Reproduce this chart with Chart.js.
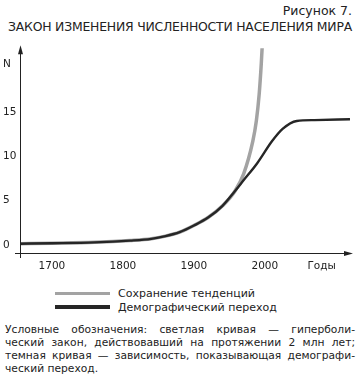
<!DOCTYPE html>
<html lang="ru">
<head>
<meta charset="utf-8">
<script src="https://cdn.jsdelivr.net/npm/chart.js@4/dist/chart.umd.min.js"></script>
<style>
  html, body { margin: 0; padding: 0; background: #fff; }
  body { width: 362px; height: 387px; position: relative; overflow: hidden; font-family: "DejaVu Sans", sans-serif; color: #222; }
  #fig { position: absolute; right: 10px; top: 3px; font-size: 12.5px; }
  #title { position: absolute; left: 8px; top: 20px; font-size: 11.5px; white-space: nowrap; transform-origin: 0 0; letter-spacing: -0.2px; }
  #wrap { position: absolute; left: 0; top: 38px; width: 362px; height: 240px; }
  #legend { position: absolute; left: 55px; top: 286px; font-size: 11px; }
  .li { display: flex; align-items: center; height: 14px; }
  .sw { width: 55px; margin-right: 8px; }
  #caption { position: absolute; left: 5px; top: 323px; width: 350px; font-size: 10.7px; line-height: 13px; }
  #caption div { text-align: justify; text-align-last: justify; white-space: nowrap; }
  #caption div.last { text-align-last: left; }
</style>
</head>
<body>
<div id="fig">Рисунок 7.</div>
<div id="title">ЗАКОН ИЗМЕНЕНИЯ ЧИСЛЕННОСТИ НАСЕЛЕНИЯ МИРА</div>
<div id="wrap"><canvas id="c"></canvas></div>
<div id="legend"></div>
<div id="caption">
  <div>Условные обозначения: светлая кривая — гиперболи-</div>
  <div>ческий закон, действовавший на протяжении 2 млн лет;</div>
  <div>темная кривая — зависимость, показывающая демографи-</div>
  <div class="last">ческий переход.</div>
</div>
<script>
const seriesNames = ['Сохранение тенденций', 'Демографический переход'];
const trendYears  = [1655, 1700, 1760, 1810, 1840, 1860, 1880, 1900, 1920, 1940, 1958, 1970, 1983, 1988, 1992, 1995, 1997];
const trendValues = [0.15, 0.2, 0.3, 0.5, 0.7, 1.0, 1.45, 2.2, 3.1, 4.4, 6.1, 8.0, 11.7, 14.0, 17.0, 20.5, 23.5];
const transYears  = [1655, 1700, 1760, 1810, 1840, 1860, 1880, 1900, 1920, 1940, 1958, 1970, 1989, 2010, 2025, 2045, 2070, 2120];
const transValues = [0.15, 0.2, 0.3, 0.5, 0.7, 1.0, 1.45, 2.2, 3.1, 4.4, 6.1, 7.3, 9.2, 11.7, 13.1, 14.0, 14.1, 14.2];
const xTickValues = [1700, 1800, 1900, 2000, 2080];
const xTickLabels = ['1700', '1800', '1900', '2000', 'Годы'];
const yTickValues = [0, 5, 10, 15, 20.4];
const yTickLabels = ['0', '5', '10', '15', 'N'];

// fit title to width
(function(){
  const t = document.getElementById('title');
  const w = t.getBoundingClientRect().width;
  t.style.transform = 'scaleX(' + (344 / w) + ')';
})();

const axisArrows = {
  id: 'axisArrows',
  afterDraw(chart) {
    const { ctx, chartArea: a } = chart;
    ctx.save();
    ctx.strokeStyle = '#222';
    ctx.fillStyle = '#222';
    ctx.lineWidth = 1;
    ctx.beginPath();
    ctx.moveTo(a.left + 0.5, a.bottom + 5);
    ctx.lineTo(a.left + 0.5, a.top + 2);
    ctx.moveTo(a.left - 5, a.bottom + 0.5);
    ctx.lineTo(a.right - 2, a.bottom + 0.5);
    ctx.stroke();
    ctx.beginPath();
    ctx.moveTo(a.left + 0.5, a.top - 3);
    ctx.lineTo(a.left - 2, a.top + 6);
    ctx.lineTo(a.left + 3, a.top + 6);
    ctx.closePath();
    ctx.fill();
    ctx.beginPath();
    ctx.moveTo(a.right + 3, a.bottom + 0.5);
    ctx.lineTo(a.right - 6, a.bottom - 2);
    ctx.lineTo(a.right - 6, a.bottom + 3);
    ctx.closePath();
    ctx.fill();
    ctx.restore();
  }
};

const chart = new Chart(document.getElementById('c'), {
  type: 'line',
  data: {
    datasets: [
      { label: seriesNames[0], data: trendYears.map((x, i) => ({ x, y: trendValues[i] })),
        borderColor: '#a3a3a3', borderWidth: 3.5, pointRadius: 0, cubicInterpolationMode: 'monotone', order: 2 },
      { label: seriesNames[1], data: transYears.map((x, i) => ({ x, y: transValues[i] })),
        borderColor: '#262626', borderWidth: 2.4, pointRadius: 0, cubicInterpolationMode: 'monotone', order: 1 }
    ]
  },
  options: {
    responsive: true,
    maintainAspectRatio: false,
    animation: false,
    layout: { padding: { left: 3, right: 12, top: 7, bottom: 0 } },
    plugins: { legend: { display: false }, title: { display: false }, tooltip: { enabled: false } },
    scales: {
      x: {
        type: 'linear', min: 1655, max: 2120,
        grid: { display: false, drawTicks: false },
        border: { display: false },
        afterBuildTicks: s => { s.ticks = xTickValues.map(v => ({ value: v })); },
        afterFit: s => { s.height = 25; },
        ticks: { padding: 7, color: '#222', font: { family: 'DejaVu Sans', size: 10.5 },
          maxRotation: 0, autoSkip: false,
          callback: (v) => xTickLabels[xTickValues.indexOf(v)] }
      },
      y: {
        type: 'linear', min: -0.9, max: 22.2,
        grid: { display: false, drawTicks: false },
        border: { display: false },
        afterBuildTicks: s => { s.ticks = yTickValues.map(v => ({ value: v })); },
        afterFit: s => { s.width = 17; },
        ticks: { crossAlign: 'far', padding: 4, color: '#222', font: { family: 'DejaVu Sans', size: 10.5 },
          autoSkip: false,
          callback: (v) => yTickLabels[yTickValues.indexOf(v)] }
      }
    }
  },
  plugins: [axisArrows]
});

// HTML legend from chart datasets
const leg = document.getElementById('legend');
chart.data.datasets.forEach((d, i) => {
  const row = document.createElement('div');
  row.className = 'li';
  const sw = document.createElement('div');
  sw.className = 'sw';
  sw.style.height = (i === 0 ? 3 : 4) + 'px';
  sw.style.background = d.borderColor;
  const tx = document.createElement('span');
  tx.textContent = d.label;
  row.appendChild(sw); row.appendChild(tx);
  leg.appendChild(row);
});
</script>
</body>
</html>
